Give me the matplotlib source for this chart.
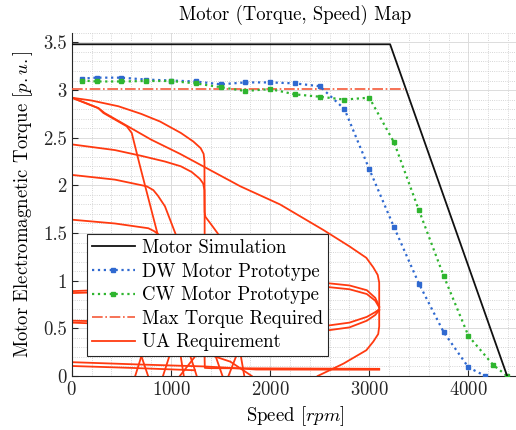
import matplotlib
matplotlib.use("Agg")
import matplotlib.pyplot as plt
from matplotlib.ticker import MultipleLocator

plt.rcParams["font.family"] = "cmr10"
plt.rcParams["mathtext.fontset"] = "cm"
plt.rcParams["axes.unicode_minus"] = False
plt.rcParams["axes.formatter.use_mathtext"] = True

# --- data ---
sim_rpm = [0, 3210, 4390]
sim_tq = [3.48, 3.48, 0.0]

dw_rpm = [100, 250, 500, 750, 1000, 1250, 1500, 1750, 2000, 2250, 2500,
          2750, 3000, 3250, 3500, 3750, 4000, 4170]
dw_tq = [3.12, 3.13, 3.13, 3.11, 3.10, 3.09, 3.06, 3.08, 3.08, 3.07, 3.04,
         2.80, 2.17, 1.56, 0.97, 0.46, 0.09, 0.0]

cw_rpm = [100, 250, 500, 750, 1000, 1250, 1500, 1750, 2000, 2250, 2500,
          2750, 3000, 3250, 3500, 3750, 4000, 4250, 4390]
cw_tq = [3.10, 3.09, 3.09, 3.095, 3.095, 3.07, 3.03, 2.99, 3.01, 2.955, 2.93,
         2.90, 2.92, 2.45, 1.74, 1.05, 0.42, 0.115, 0.0]

max_rpm = [0, 3345]
max_tq = [3.01, 3.01]

# UA requirement trajectories
ua1_rpm = [0, 0, 200, 470, 700, 890, 1100, 1226, 1300, 1330, 1338, 1340, 1340, 1342, 1400, 3100]
ua1_tq = [3.0, 2.92, 2.89, 2.83, 2.75, 2.67, 2.55, 2.46, 2.39, 2.33, 2.25, 1.70, 0.17, 0.085, 0.082, 0.075]

ua2_rpm = [0, 268, 319, 554, 605, 689, 873, 950, 1050, 1150, 1230, 1260]
ua2_tq = [2.92, 2.81, 2.76, 2.62, 2.55, 2.20, 1.46, 1.20, 0.75, 0.35, 0.10, 0.0]

ua3_rpm = [0, 150, 270, 330, 800, 1093, 1700, 2100, 2540, 2800, 2970, 3040, 3085,
           3100, 3100, 3090, 3040, 2970, 2740, 2480]
ua3_tq = [2.92, 2.86, 2.81, 2.76, 2.48, 2.33, 1.99, 1.80, 1.53, 1.36, 1.24, 1.14, 1.06,
          0.98, 0.52, 0.44, 0.36, 0.27, 0.13, 0.0]

ua4_rpm = [0, 436, 700, 940, 1100, 1210, 1290, 1325, 1338, 1340, 1348, 1420, 1497,
           1560, 1640, 1690, 1740]
ua4_tq = [2.43, 2.37, 2.31, 2.25, 2.20, 2.14, 2.07, 2.02, 1.95, 1.72, 1.67, 1.57, 1.46,
          1.30, 0.80, 0.30, 0.0]

ua5_rpm = [0, 436, 756, 823, 870, 940, 1058, 1150, 1300, 1420, 1470, 1520]
ua5_tq = [2.11, 2.06, 1.99, 1.95, 1.89, 1.78, 1.46, 1.20, 0.70, 0.30, 0.15, 0.0]

ua6_rpm = [0, 436, 773, 830, 870, 890, 950, 1050, 1100, 1130]
ua6_tq = [1.64, 1.60, 1.55, 1.52, 1.49, 1.46, 1.10, 0.50, 0.20, 0.0]

ua7_rpm = [0, 500, 1000, 1500, 2000, 2520, 2800, 2975, 3060, 3100]
ua7_tq = [0.89, 0.91, 0.93, 0.95, 0.97, 0.98, 0.95, 0.90, 0.82, 0.73]

ua8_rpm = [0, 1000, 2000, 2520, 2800, 2975, 3060, 3100]
ua8_tq = [0.87, 0.90, 0.92, 0.94, 0.91, 0.86, 0.79, 0.72]

ua9_rpm = [0, 1000, 2000, 2520, 2800, 2975, 3060, 3100]
ua9_tq = [0.58, 0.56, 0.53, 0.52, 0.56, 0.62, 0.67, 0.70]

ua10_rpm = [0, 1000, 2000, 2520, 2800, 2975, 3060, 3100]
ua10_tq = [0.56, 0.52, 0.48, 0.47, 0.51, 0.58, 0.64, 0.69]

ua11_rpm = [0, 700, 1340, 1600, 1860, 3100]
ua11_tq = [0.145, 0.12, 0.10, 0.085, 0.068, 0.066]

ua12_rpm = [0, 600, 1243]
ua12_tq = [0.105, 0.085, 0.06]

# short crossing pieces near the bottom
ua13_rpm = [640, 760]
ua13_tq = [0.0, 0.40]
ua14_rpm = [640, 770]
ua14_tq = [0.40, 0.0]
ua15_rpm = [920, 1050]
ua15_tq = [0.0, 0.42]
ua16_rpm = [1090, 1240, 1300]
ua16_tq = [0.0, 0.20, 0.35]
ua17_rpm = [1580, 1700]
ua17_tq = [0.0, 0.32]
ua18_rpm = [1400, 1600, 1815]
ua18_tq = [0.22, 0.15, 0.0]

ua_rpm = [ua1_rpm, ua2_rpm, ua3_rpm, ua4_rpm, ua5_rpm, ua6_rpm, ua7_rpm, ua8_rpm, ua9_rpm,
          ua10_rpm, ua11_rpm, ua12_rpm, ua13_rpm, ua14_rpm, ua15_rpm, ua16_rpm, ua17_rpm, ua18_rpm]
ua_tq = [ua1_tq, ua2_tq, ua3_tq, ua4_tq, ua5_tq, ua6_tq, ua7_tq, ua8_tq, ua9_tq,
         ua10_tq, ua11_tq, ua12_tq, ua13_tq, ua14_tq, ua15_tq, ua16_tq, ua17_tq, ua18_tq]

red = "#ff3a10"
blue = "#2f69d0"
green = "#2fb52f"

fig = plt.figure(figsize=(5.16, 4.30), dpi=100)
ax = fig.add_axes([0.139, 0.1256, 0.865, 0.798])

ua_lines = []
for r, t in zip(ua_rpm, ua_tq):
    ua_lines += ax.plot(r, t, color=red, lw=1.3, zorder=2)

h_max, = ax.plot(max_rpm, max_tq, color="#f55a3a", lw=1.2, ls="-.", zorder=3)
h_dw, = ax.plot(dw_rpm, dw_tq, color=blue, lw=1.6, ls=":", marker="s", ms=3.5, zorder=4)
h_cw, = ax.plot(cw_rpm, cw_tq, color=green, lw=1.6, ls=":", marker="s", ms=3.5, zorder=4)
h_sim, = ax.plot(sim_rpm, sim_tq, color="#111111", lw=1.3, zorder=5)

ax.set_xlim(0, 4500)
ax.set_ylim(0, 3.6)
ax.xaxis.set_major_locator(MultipleLocator(1000))
ax.xaxis.set_minor_locator(MultipleLocator(200))
ax.yaxis.set_major_locator(MultipleLocator(0.5))
ax.yaxis.set_minor_locator(MultipleLocator(0.1))
ax.set_yticks([0, 0.5, 1, 1.5, 2, 2.5, 3, 3.5])
ax.set_yticklabels(["0", "0.5", "1", "1.5", "2", "2.5", "3", "3.5"])
ax.grid(which="major", color="#dcdcdc", lw=0.7, ls="-")
ax.grid(which="minor", color="#c8c8c8", lw=0.6, ls=":")
ax.set_axisbelow(True)
ax.tick_params(which="major", direction="in", length=4, labelsize=13.5, colors="#262626")
ax.tick_params(which="minor", length=0)
for s in ["top", "right"]:
    ax.spines[s].set_visible(False)
for s in ["left", "bottom"]:
    ax.spines[s].set_color("#262626")

ax.set_title("Motor (Torque, Speed) Map", fontsize=13.5, pad=9)
ax.set_xlabel("Speed [$rpm$]", fontsize=13.5, labelpad=4)
ax.set_ylabel("Motor Electromagnetic Torque [$p.u.$]", fontsize=13.5, labelpad=6)

leg = ax.legend([h_sim, h_dw, h_cw, h_max, ua_lines[0]],
                ["Motor Simulation", "DW Motor Prototype", "CW Motor Prototype",
                 "Max Torque Required", "UA Requirement"],
                loc="lower left", bbox_to_anchor=(0.034, 0.058), borderaxespad=0,
                fontsize=13.5, fancybox=False, framealpha=1, edgecolor="#262626",
                handlelength=2.3, handletextpad=0.4, labelspacing=0.3,
                borderpad=0.25)
leg.get_frame().set_linewidth(0.8)
leg.set_zorder(10)

fig.savefig("out.png", dpi=100)
